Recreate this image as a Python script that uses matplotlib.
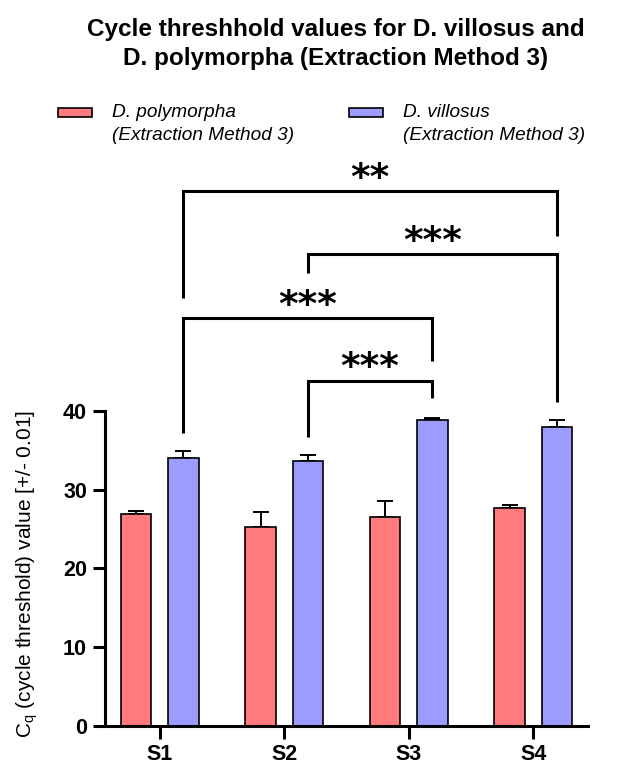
import numpy as np
import matplotlib
matplotlib.use('Agg')
import matplotlib.pyplot as plt
from matplotlib.patches import Rectangle

plt.rcParams['font.family'] = ['Liberation Sans', 'DejaVu Sans']

# data
sites = ['S1', 'S2', 'S3', 'S4']
poly_mean = [26.9, 25.3, 26.5, 27.7]
poly_err = [0.4, 1.9, 2.0, 0.4]
vill_mean = [34.0, 33.7, 38.8, 38.0]
vill_err = [0.9, 0.7, 0.3, 0.9]

# significance brackets: (left group, right group, height, left drop, right drop, label)
brackets = [
    (1, 2, 43.85, 36.7, 41.6, '***'),
    (0, 2, 51.8, 37.2, 46.3, '***'),
    (1, 3, 59.9, 57.5, 41.2, '***'),
    (0, 3, 67.9, 54.4, 62.2, '**'),
]

red = '#FF7B7B'
blue = '#9C9CFF'

fig = plt.figure(figsize=(6.22, 7.64), dpi=100)
ax = fig.add_axes([0.1688, 0.0501, 0.7765, 0.7415])

x = np.arange(len(sites))
off = 0.19
w = 0.245
ax.bar(x - off, poly_mean, w, color=red, edgecolor='black', linewidth=1.2, zorder=2)
ax.bar(x + off, vill_mean, w, color=blue, edgecolor='black', linewidth=1.2, zorder=2)
ax.errorbar(x - off, poly_mean, yerr=[np.zeros(4), poly_err], fmt='none', ecolor='black',
            elinewidth=1.4, capsize=6, capthick=1.4, zorder=1)
ax.errorbar(x + off, vill_mean, yerr=[np.zeros(4), vill_err], fmt='none', ecolor='black',
            elinewidth=1.4, capsize=6, capthick=1.4, zorder=1)

for a, b, h, d1, d2, lab in brackets:
    xa = a + off
    xb = b + off
    ax.plot([xa, xa, xb, xb], [d1, h, h, d2], color='black', linewidth=2.2,
            solid_joinstyle='miter', solid_capstyle='butt', clip_on=False)
    ax.text((xa + xb) / 2, h + 0.3, lab, ha='center', va='baseline', fontsize=27,
            fontweight='bold', family='DejaVu Sans')

ax.set_xlim(-0.44, 3.44)
ax.set_ylim(0, 72)
ax.set_yticks([0, 10, 20, 30, 40])
ax.set_xticks(x)
ax.set_xticklabels(sites)
for lbl in ax.get_xticklabels() + ax.get_yticklabels():
    lbl.set_fontweight('bold')
    lbl.set_fontsize(15.5)
ax.spines['top'].set_visible(False)
ax.spines['right'].set_visible(False)
ax.spines['left'].set_bounds(0, 40)
ax.spines['left'].set_linewidth(2.2)
ax.spines['bottom'].set_linewidth(2.2)
ax.tick_params(axis='both', width=2.2, length=9, pad=4)

fig.text(27 / 622, 1 - 574 / 764, 'C$_\\mathregular{q}$ (cycle threshold) value [+/- 0.01]',
         rotation=90, ha='center', va='center', fontsize=15)

fig.text(336 / 622, 1 - 44 / 764, 'Cycle threshhold values for D. villosus and\nD. polymorpha (Extraction Method 3)',
         ha='center', va='center', fontsize=17.5, fontweight='bold', linespacing=1.35)

# legend
for px, tx, col, name in [(58, 112, red, 'D. polymorpha'), (349, 403, blue, 'D. villosus')]:
    fig.patches.append(Rectangle((px / 622, 1 - 117 / 764), 34 / 622, 9 / 764,
                                 transform=fig.transFigure, facecolor=col,
                                 edgecolor='black', linewidth=1.2))
    fig.text(tx / 622, 1 - 124 / 764, name + '\n(Extraction Method 3)', ha='left',
             va='center', fontsize=13.7, style='italic', linespacing=1.4)

fig.savefig('out.png', dpi=100)
